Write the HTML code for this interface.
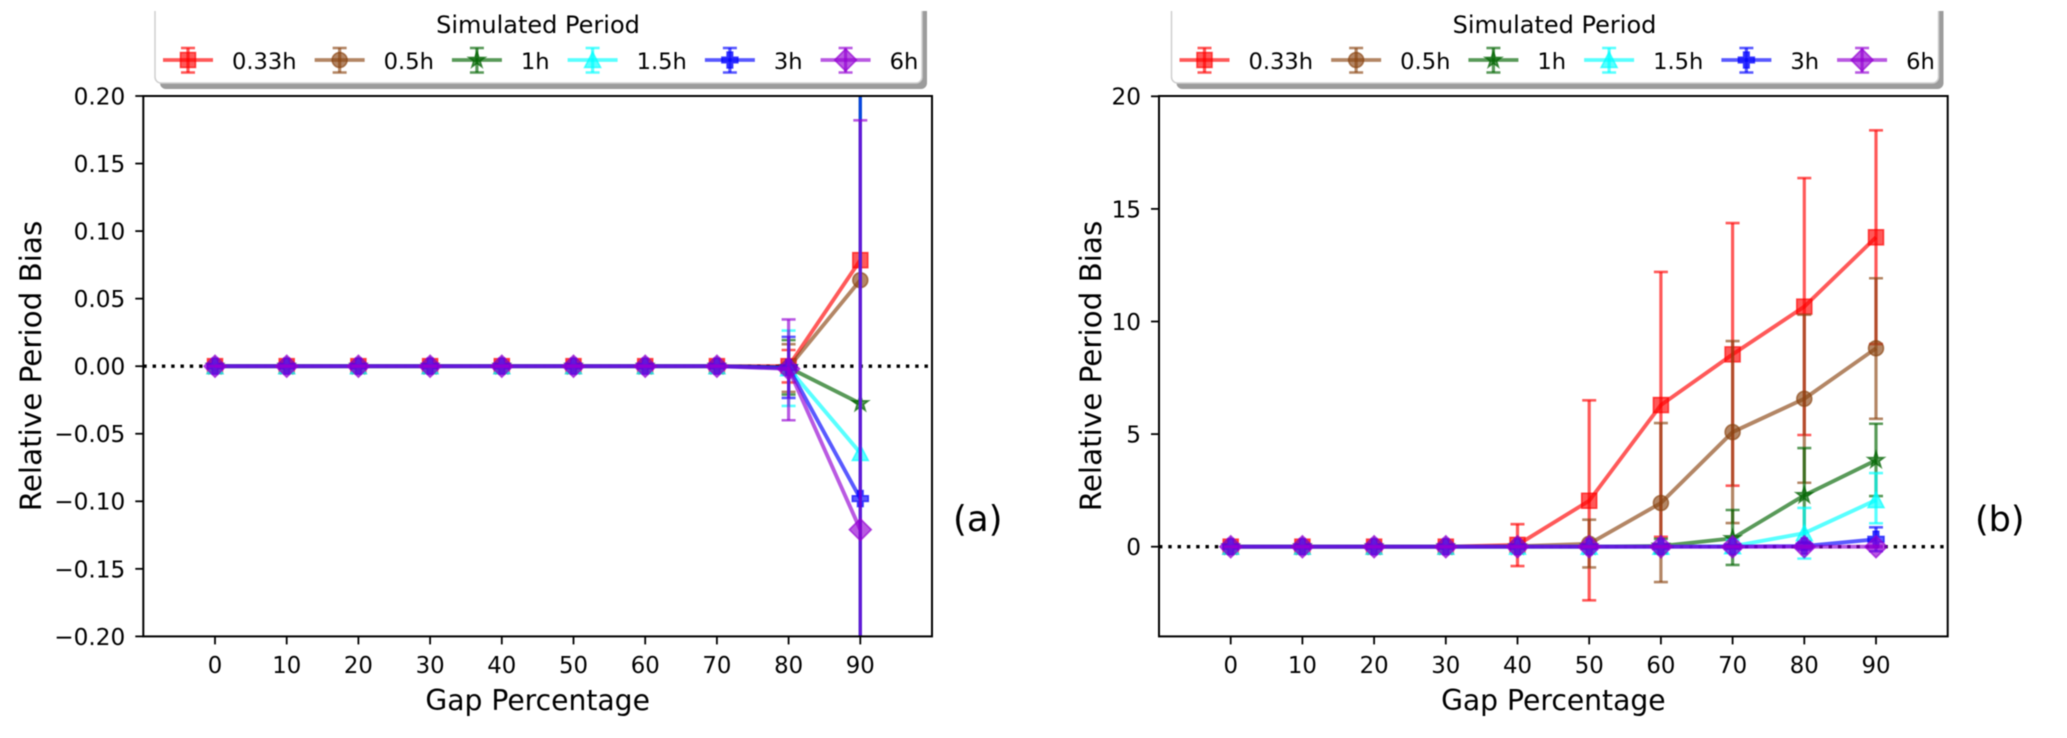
<!DOCTYPE html>
<html lang="en">
<head>
<meta charset="utf-8">
<title>Relative Period Bias vs Gap Percentage</title>
<style>
html,body{margin:0;padding:0;background:#fff;width:2067px;height:738px;overflow:hidden}
svg{display:block;filter:blur(0.45px)}
text{font-family:"DejaVu Sans","Liberation Sans",sans-serif;fill:#000}
</style>
</head>
<body>
<svg id="chart" xmlns="http://www.w3.org/2000/svg" width="2067" height="738" viewBox="0 0 2067 738">
  <defs>
    <clipPath id="clip-a"><rect x="143.3" y="96" width="788.9" height="540.4"/></clipPath>
    <clipPath id="clip-b"><rect x="1159" y="96" width="788.7" height="540.4"/></clipPath>
    <clipPath id="clip-top"><rect x="0" y="11" width="2067" height="727"/></clipPath>
  </defs>
  <rect width="2067" height="738" fill="#fff"/>
  <g id="panel-a"></g>
  <g id="panel-b"></g>
  <text x="953" y="531" font-size="35.5">(a)</text>
  <text x="1975" y="531" font-size="35">(b)</text>
</svg>
<script>
const gaps = [0, 10, 20, 30, 40, 50, 60, 70, 80, 90];
const seriesNames = ["0.33h", "0.5h", "1h", "1.5h", "3h", "6h"];
const legendTitle = "Simulated Period";
const xAxisTitle = "Gap Percentage";
const yAxisTitle = "Relative Period Bias";
const xTickLabels = ["0", "10", "20", "30", "40", "50", "60", "70", "80", "90"];
const yTicksA = [0.20, 0.15, 0.10, 0.05, 0, -0.05, -0.10, -0.15, -0.20];
const yTickLabelsA = ["0.20", "0.15", "0.10", "0.05", "0.00", "\u22120.05", "\u22120.10", "\u22120.15", "\u22120.20"];
const yTicksB = [20, 15, 10, 5, 0];
const yTickLabelsB = ["20", "15", "10", "5", "0"];

/* Panel (a): mean, upper cap value, lower cap value */
const aMean033 = [0, 0, 0, 0, 0, 0, 0, 0, 0, 0.0785];
const aUp033 = [0, 0, 0, 0, 0, 0, 0, 0, 0.012, 0.45];
const aLow033 = [0, 0, 0, 0, 0, 0, 0, 0, -0.012, -0.30];
const aMean05 = [0, 0, 0, 0, 0, 0, 0, 0, -0.001, 0.0637];
const aUp05 = [0, 0, 0, 0, 0, 0, 0, 0, 0.0163, 0.42];
const aLow05 = [0, 0, 0, 0, 0, 0, 0, 0, -0.019, -0.30];
const aMean1 = [0, 0, 0, 0, 0, 0, 0, 0, -0.001, -0.0276];
const aUp1 = [0, 0, 0, 0, 0, 0, 0, 0, 0.0193, 0.35];
const aLow1 = [0, 0, 0, 0, 0, 0, 0, 0, -0.021, -0.40];
const aMean15 = [0, 0, 0, 0, 0, 0, 0, 0, -0.0015, -0.0642];
const aUp15 = [0, 0, 0, 0, 0, 0, 0, 0, 0.0264, 0.30];
const aLow15 = [0, 0, 0, 0, 0, 0, 0, 0, -0.0294, -0.42];
const aMean3 = [0, 0, 0, 0, 0, 0, 0, 0, -0.001, -0.098];
const aUp3 = [0, 0, 0, 0, 0, 0, 0, 0, 0.0217, 0.28];
const aLow3 = [0, 0, 0, 0, 0, 0, 0, 0, -0.0235, -0.47];
const aMean6 = [0, 0, 0, 0, 0, 0, 0, 0, -0.002, -0.121];
const aUp6 = [0, 0, 0, 0, 0, 0, 0, 0, 0.0346, 0.182];
const aLow6 = [0, 0, 0, 0, 0, 0, 0, 0, -0.04, -0.42];

/* Panel (b): mean, upper cap value, lower cap value */
const bMean033 = [0, 0, 0, 0, 0.08, 2.04, 6.29, 8.54, 10.66, 13.74];
const bUp033 = [0, 0, 0, 0, 1.0, 6.5, 12.2, 14.37, 16.37, 18.49];
const bLow033 = [0, 0, 0, 0, -0.86, -2.38, 0.44, 2.71, 4.96, 9.0];
const bMean05 = [0, 0, 0, 0, 0.02, 0.13, 1.94, 5.09, 6.57, 8.81];
const bUp05 = [0, 0, 0, 0, 0.1, 1.2, 5.49, 9.13, 10.3, 11.92];
const bLow05 = [0, 0, 0, 0, -0.1, -0.92, -1.57, 1.05, 2.84, 5.68];
const bMean1 = [0, 0, 0, 0, 0, 0, 0.03, 0.37, 2.28, 3.84];
const bUp1 = [0, 0, 0, 0, 0, 0.05, 0.35, 1.63, 4.38, 5.46];
const bLow1 = [0, 0, 0, 0, 0, -0.05, -0.3, -0.81, 0.18, 2.25];
const bMean15 = [0, 0, 0, 0, 0, 0, 0, 0.02, 0.6, 2.07];
const bUp15 = [0, 0, 0, 0, 0, 0, 0.05, 0.3, 1.72, 3.27];
const bLow15 = [0, 0, 0, 0, 0, 0, -0.05, -0.26, -0.53, 1.04];
const bMean3 = [0, 0, 0, 0, 0, 0, 0, 0, 0.03, 0.33];
const bUp3 = [0, 0, 0, 0, 0, 0, 0, 0.05, 0.2, 0.86];
const bLow3 = [0, 0, 0, 0, 0, 0, 0, -0.05, -0.14, -0.2];
const bMean6 = [0, 0, 0, 0, 0, 0, 0, 0, 0, 0];
const bUp6 = [0, 0, 0, 0, 0, 0, 0, 0, 0.04, 0.04];
const bLow6 = [0, 0, 0, 0, 0, 0, 0, 0, -0.04, -0.04];

const colors = ["#ff0000", "#8b4513", "#006400", "#00ffff", "#0000ff", "#9400d3"];
const shapes = ["square", "circle", "star", "triangle", "plus", "diamond"];
const ALPHA = 0.65;
const NS = "http://www.w3.org/2000/svg";
const PLOT_TOP = 96;
const PLOT_BOTTOM = 636.4;

function make(tag, attrs, parent) {
  const el = document.createElementNS(NS, tag);
  for (const k in attrs) el.setAttribute(k, attrs[k]);
  parent.appendChild(el);
  return el;
}

function markerPath(shape) {
  if (shape === "square") return "M-7.5,-7.5H7.5V7.5H-7.5Z";
  if (shape === "circle") return "M-7.5,0A7.5,7.5 0 1 1 7.5,0A7.5,7.5 0 1 1 -7.5,0Z";
  if (shape === "triangle") return "M0,-8L8,7.5H-8Z";
  if (shape === "plus") return "M-2.8,-8H2.8V-2.8H8V2.8H2.8V8H-2.8V2.8H-8V-2.8H-2.8Z";
  if (shape === "diamond") return "M0,-11L11,0L0,11L-11,0Z";
  let d = "";
  for (let i = 0; i < 10; i++) {
    const r = i % 2 ? 3.4 : 8.6;
    const t = -Math.PI / 2 + i * Math.PI / 5;
    d += (i ? "L" : "M") + (r * Math.cos(t)).toFixed(2) + "," + (r * Math.sin(t)).toFixed(2);
  }
  return d + "Z";
}

function drawMarker(parent, i, x, y) {
  const m = make("path", {
    d: markerPath(shapes[i]),
    transform: "translate(" + x + "," + y + ")",
    fill: colors[i],
    "fill-opacity": ALPHA,
    stroke: colors[i],
    "stroke-opacity": ALPHA,
    "stroke-width": 1.6
  }, parent);
  return m;
}

function drawErrorBar(parent, i, x, yTop, yBottom, minY, maxY) {
  const c = { stroke: colors[i], "stroke-opacity": ALPHA };
  const y1 = Math.max(yTop, minY - 2);
  const y2 = Math.min(yBottom, maxY + 2);
  const bar = make("line", Object.assign({ x1: x, x2: x, y1: y1, y2: y2, "stroke-width": 3.2 }, c), parent);
  
  
  if (yTop >= minY) {
    const capA = make("line", Object.assign({ x1: x - 7, x2: x + 7, y1: yTop, y2: yTop, "stroke-width": 2.6 }, c), parent);
    
    
  }
  if (yBottom <= maxY) {
    const capB = make("line", Object.assign({ x1: x - 7, x2: x + 7, y1: yBottom, y2: yBottom, "stroke-width": 2.6 }, c), parent);
    
    
  }
}

function drawPanel(cfg) {
  const root = document.getElementById(cfg.id);
  const xScale = v => cfg.x0 + 7.17 * v;
  const yScale = cfg.yScale;
  const left = xScale(-10), right = xScale(100), top = PLOT_TOP, bottom = PLOT_BOTTOM;

  /* legend */
  const legend = make("g", { "clip-path": "url(#clip-top)" }, root);
  
  
  const boxL = cfg.legendLeft, boxR = cfg.legendLeft + 767;
  const shadow = make("rect", { x: boxL + 5, y: 0, width: boxR - boxL, height: 89, rx: 6, fill: "#9c9c9c" }, legend);
  
  
  const box = make("rect", { x: boxL, y: 0, width: boxR - boxL, height: 83, rx: 6, fill: "#fff", stroke: "#cfcfcf", "stroke-width": 1.5 }, legend);
  
  
  const title = make("text", { x: boxL + 383, y: 33, "font-size": 24, "text-anchor": "middle" }, legend);
  title.textContent = legendTitle;
  
  
  let cursor = boxL + 8;
  seriesNames.forEach((name, i) => {
    const entry = make("g", {}, legend);
    
    
    make("line", { x1: cursor, x2: cursor + 50, y1: 60, y2: 60, stroke: colors[i], "stroke-opacity": ALPHA, "stroke-width": 3.8 }, entry);
    drawErrorBar(entry, i, cursor + 25, 48, 72.5, 0, 90);
    const lm = drawMarker(entry, i, cursor + 25, 60);
    
    
    const label = make("text", { x: cursor + 69, y: 69, "font-size": 22.6 }, entry);
    label.textContent = name;
    
    
    cursor += 69 + label.getComputedTextLength() + 18;
  });

  /* ticks */
  gaps.forEach((g, i) => {
    const x = xScale(g);
    const tick = make("line", { x1: x, x2: x, y1: bottom, y2: bottom + 8, stroke: "#000", "stroke-width": 1.8 }, root);
    
    
    const t = make("text", { x: x, y: 673, "font-size": 22.8, "text-anchor": "middle" }, root);
    t.textContent = xTickLabels[i];
    
    
  });
  cfg.yTicks.forEach((v, i) => {
    const y = yScale(v);
    const tick = make("line", { x1: left - 8, x2: left, y1: y, y2: y, stroke: "#000", "stroke-width": 1.8 }, root);
    
    
    const t = make("text", { x: left - 18, y: y + 8.4, "font-size": 23.2, "text-anchor": "end" }, root);
    t.textContent = cfg.yLabels[i];
    
    
  });

  /* plot content */
  const plot = make("g", { "clip-path": "url(#" + cfg.clip + ")" }, root);
  
  
  const zero = make("line", { x1: left, x2: right, y1: yScale(0), y2: yScale(0), stroke: "#000", "stroke-width": 3.4, "stroke-dasharray": "3.4 5.9" }, plot);
  
  

  cfg.means.forEach((mean, i) => {
    const g = make("g", {}, plot);
    
    
    const pts = mean.map((v, k) => xScale(gaps[k]).toFixed(2) + "," + yScale(v).toFixed(2)).join(" ");
    const line = make("polyline", { points: pts, fill: "none", stroke: colors[i], "stroke-opacity": ALPHA, "stroke-width": 3.9, "stroke-linejoin": "round" }, g);
    
    
    mean.forEach((v, k) => {
      const m = drawMarker(g, i, xScale(gaps[k]), yScale(v));
      
      
    });
    mean.forEach((v, k) => {
      drawErrorBar(g, i, xScale(gaps[k]), yScale(cfg.ups[i][k]), yScale(cfg.lows[i][k]), PLOT_TOP, PLOT_BOTTOM);
    });
  });

  /* frame + titles */
  const frame = make("rect", { x: left, y: top, width: right - left, height: bottom - top, fill: "none", stroke: "#000", "stroke-width": 2 }, root);
  
  
  const xt = make("text", { x: (left + right) / 2, y: 710, "font-size": 28.2, "text-anchor": "middle" }, root);
  xt.textContent = xAxisTitle;
  
  
  const yt = make("text", { x: 0, y: 0, "font-size": 29.4, "text-anchor": "middle", transform: "translate(" + cfg.yTitleX + ",366) rotate(-90)" }, root);
  yt.textContent = yAxisTitle;
  
  
}

drawPanel({
  id: "panel-a", clip: "clip-a", x0: 215, legendLeft: 155, yTitleX: 41,
  yScale: v => 366.2 - 1351 * v,
  yTicks: yTicksA, yLabels: yTickLabelsA,
  means: [aMean033, aMean05, aMean1, aMean15, aMean3, aMean6],
  ups: [aUp033, aUp05, aUp1, aUp15, aUp3, aUp6],
  lows: [aLow033, aLow05, aLow1, aLow15, aLow3, aLow6]
});
drawPanel({
  id: "panel-b", clip: "clip-b", x0: 1230.7, legendLeft: 1171.5, yTitleX: 1101,
  yScale: v => 546.7 - 22.52 * v,
  yTicks: yTicksB, yLabels: yTickLabelsB,
  means: [bMean033, bMean05, bMean1, bMean15, bMean3, bMean6],
  ups: [bUp033, bUp05, bUp1, bUp15, bUp3, bUp6],
  lows: [bLow033, bLow05, bLow1, bLow15, bLow3, bLow6]
});
</script>
</body>
</html>
